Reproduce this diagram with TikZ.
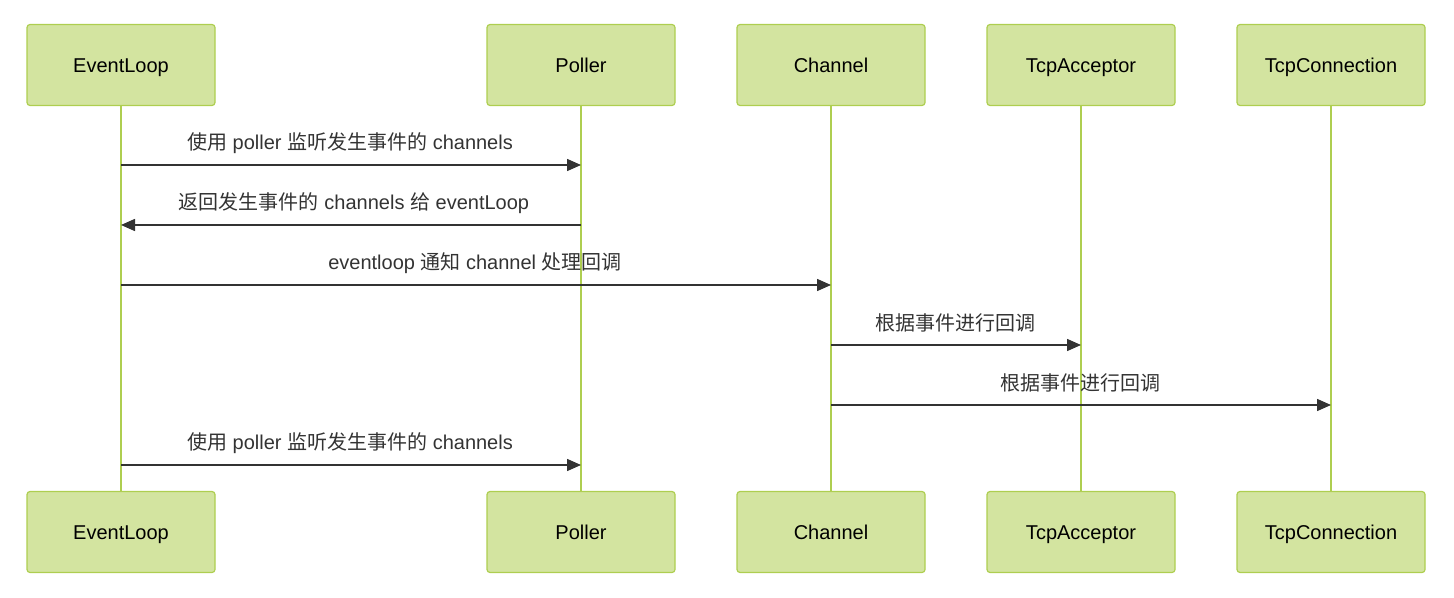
\documentclass[tikz,border=0pt]{standalone}
\usepackage{fontspec}
\setmainfont{Liberation Sans}
\newfontfamily\cjk{Noto Sans CJK SC}
\usetikzlibrary{arrows.meta}
\definecolor{actFill}{RGB}{211,228,160}
\definecolor{actLine}{RGB}{174,206,80}
\definecolor{msgInk}{RGB}{51,51,51}
\tikzset{actor/.style={draw=actLine, fill=actFill, line width=0.6pt, rounded corners=1.5pt,
  minimum width=94pt, minimum height=40.5pt, text height=7.2pt, text depth=0pt,
  font=\fontsize{10}{12}\selectfont},
  life/.style={actLine, line width=1.4pt},
  msg/.style={msgInk, line width=0.75pt, -{Triangle[length=7pt, width=6pt]}},
  msgtxt/.style={msgInk, font=\fontsize{10}{12}\selectfont}}

\begin{document}
\begin{tikzpicture}[x=0.5pt, y=-0.5pt]
  \useasboundingbox (0,0) rectangle (1454,598);
  % lifelines first, boxes on top
  \foreach \n/\x/\t in {el/121/EventLoop, pl/581/Poller, ch/831/Channel,
      ta/1081/TcpAcceptor, tc/1331/TcpConnection} {
    \coordinate (\n-a) at (\x,105);
    \coordinate (\n-z) at (\x,491);
    \draw[life] (\n-a) -- (\n-z);
    \node[actor] (\n-t) at (\x,65) {\t};
    \node[actor] (\n-b) at (\x,532) {\t};
  }
  % message rows
  \foreach \i/\y in {1/165, 2/225, 3/285, 4/345, 5/405, 6/465}
    \coordinate (m\i) at (0,\y);
  \draw[msg] (el-t |- m1) -- (pl-t |- m1);
  \node[msgtxt] (t1) at (350,143) {{\cjk 使用} poller {\cjk 监听发生事件的} channels};
  \draw[msg] (pl-t |- m2) -- (el-t |- m2);
  \node[msgtxt] (t2) at (354,203) {{\cjk 返回发生事件的} channels {\cjk 给} eventLoop};
  \draw[msg] (el-t |- m3) -- (ch-t |- m3);
  \node[msgtxt] (t3) at (475,263) {eventloop {\cjk 通知} channel {\cjk 处理回调}};
  \draw[msg] (ch-t |- m4) -- (ta-t |- m4);
  \node[msgtxt] (t4) at (955,323) {\cjk 根据事件进行回调};
  \draw[msg] (ch-t |- m5) -- (tc-t |- m5);
  \node[msgtxt] (t5) at (1080,383) {\cjk 根据事件进行回调};
  \draw[msg] (el-t |- m6) -- (pl-t |- m6);
  \node[msgtxt] (t6) at (350,443) {{\cjk 使用} poller {\cjk 监听发生事件的} channels};
\end{tikzpicture}
\end{document}
